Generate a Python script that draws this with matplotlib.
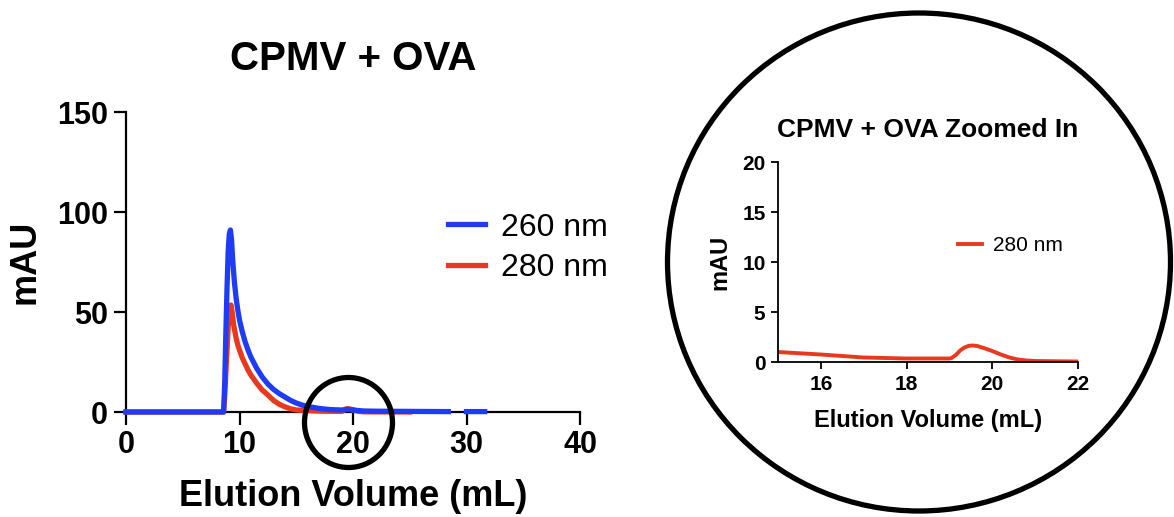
import numpy as np
import matplotlib
matplotlib.use("Agg")
import matplotlib.pyplot as plt
from matplotlib.patches import Ellipse

plt.rcParams['font.family'] = ['Liberation Sans', 'DejaVu Sans']

# 260 nm trace (full run)
vol_260 = [0, 8.6, 8.7, 8.8, 8.9, 9.0, 9.1, 9.2, 9.3, 9.4, 9.55, 9.7, 9.85,
           10.0, 10.25, 10.5, 10.75, 11.0, 11.5, 12.0, 12.5, 13.0, 13.5, 14.0,
           14.5, 15.0, 15.5, 16.0, 17.0, 18.0, 19.0, 19.5, 20.0, 20.5, 21.0,
           22.0, 25.0, 28.4, np.nan, 30.0, 31.6]
abs_260 = [0, 0, 15, 40, 62, 80, 89, 91, 86, 76, 65, 57, 51,
           46, 40, 35, 31, 27.5, 22, 17.5, 14, 11.3, 9.2, 7.5,
           5.8, 4.5, 3.5, 2.8, 1.8, 1.2, 1.0, 1.3, 1.0, 0.7, 0.5,
           0.4, 0.3, 0.2, np.nan, 0.2, 0.2]

# 280 nm trace
vol_280 = [0, 8.6, 8.7, 8.8, 8.9, 9.0, 9.1, 9.25, 9.35, 9.5, 9.7, 9.85, 10.0,
           10.25, 10.5, 10.75, 11.0, 11.5, 12.0, 12.5, 13.0, 13.5, 14.0, 14.5,
           15.0, 16.0, 17.0, 18.0, 19.0, 19.05, 19.15, 19.25, 19.35, 19.45,
           19.55, 19.65, 19.8, 20.0, 20.2, 20.4, 20.6, 20.8, 21.0, 22.0, 25.0]
abs_280 = [0, 0, 8, 20, 31, 42, 50, 53.5, 50, 43, 37, 33.5, 31,
           27, 24, 21, 18.5, 14.5, 11, 8.5, 5.8, 3.9, 2.6, 1.6,
           1.0, 0.75, 0.45, 0.35, 0.35, 0.4, 0.7, 1.15, 1.45, 1.62,
           1.65, 1.6, 1.4, 1.1, 0.75, 0.45, 0.25, 0.15, 0.1, 0.05, 0.0]

blue = '#1f3cf5'
red = '#e8391f'

fig = plt.figure(figsize=(11.74, 5.17), dpi=100)

# main chromatogram
ax = fig.add_axes([126 / 1174, 105 / 517, 454 / 1174, 300 / 517])
ax.plot(vol_280, abs_280, color=red, lw=3.8, label='280 nm', clip_on=False,
        zorder=3, solid_joinstyle='round')
ax.plot(vol_260, abs_260, color=blue, lw=3.8, label='260 nm', clip_on=False,
        zorder=4, solid_joinstyle='round')
ax.set_xlim(0, 40)
ax.set_ylim(0, 150)
ax.set_xticks([0, 10, 20, 30, 40])
ax.set_yticks([0, 50, 100, 150])
for s in ['top', 'right']:
    ax.spines[s].set_visible(False)
for s in ['left', 'bottom']:
    ax.spines[s].set_linewidth(1.6)
ax.tick_params(width=1.6, length=9, labelsize=22, pad=4)
for t in ax.get_xticklabels() + ax.get_yticklabels():
    t.set_fontweight('bold')
ax.set_title('CPMV + OVA', fontsize=29, fontweight='bold', pad=30)
ax.set_xlabel('Elution Volume (mL)', fontsize=26, fontweight='bold')
ax.set_ylabel('mAU', fontsize=26, fontweight='bold')
ax.xaxis.set_label_coords(0.5, -0.225)
ax.yaxis.set_label_coords(-0.185, 0.5)
h, l = ax.get_legend_handles_labels()
ax.legend([h[1], h[0]], [l[1], l[0]], loc='upper left', bbox_to_anchor=(0.71, 0.665),
          frameon=False, fontsize=23, handlelength=1.15, handletextpad=0.5,
          labelspacing=0.33, borderpad=0, borderaxespad=0)

# zoomed inset
ax2 = fig.add_axes([778 / 1174, 155 / 517, 300 / 1174, 200 / 517])
ax2.plot(vol_280, abs_280, color=red, lw=2.8, label='280 nm', solid_joinstyle='round')
ax2.set_xlim(15, 22)
ax2.set_ylim(0, 20)
ax2.set_xticks([16, 18, 20, 22])
ax2.set_yticks([0, 5, 10, 15, 20])
for s in ['top', 'right']:
    ax2.spines[s].set_visible(False)
for s in ['left', 'bottom']:
    ax2.spines[s].set_linewidth(1.3)
ax2.tick_params(width=1.3, length=5, labelsize=15, pad=4)
for t in ax2.get_xticklabels() + ax2.get_yticklabels():
    t.set_fontweight('bold')
ax2.set_title('CPMV + OVA Zoomed In', fontsize=19, fontweight='bold', pad=18)
ax2.set_xlabel('Elution Volume (mL)', fontsize=17, fontweight='bold')
ax2.set_ylabel('mAU', fontsize=17, fontweight='bold')
ax2.xaxis.set_label_coords(0.5, -0.235)
ax2.yaxis.set_label_coords(-0.155, 0.5)
ax2.legend(loc='upper left', bbox_to_anchor=(0.6, 0.63), frameon=False,
           fontsize=15, handlelength=1.15, handletextpad=0.55,
           borderpad=0, borderaxespad=0)

# circles drawn over everything, in pixel space
over = fig.add_axes([0, 0, 1, 1], zorder=10)
over.set_xlim(0, 1174)
over.set_ylim(517, 0)
over.axis('off')
over.patch.set_alpha(0)
over.add_patch(Ellipse((348.5, 422.5), 88, 90, fill=False, lw=3.8, color='black'))
over.add_patch(Ellipse((919, 262), 503, 498, fill=False, lw=3.8, color='black'))

fig.savefig('out.png', dpi=100)
